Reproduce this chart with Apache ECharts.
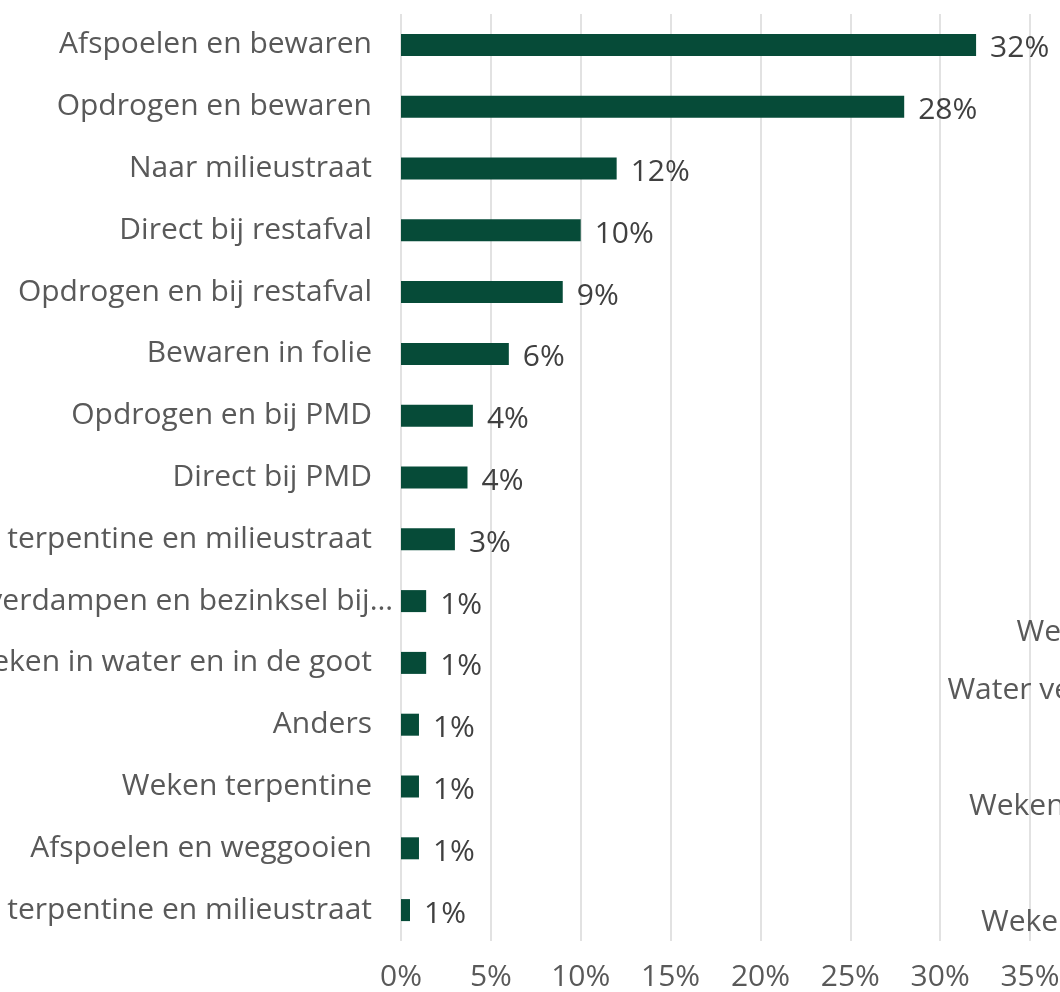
<!DOCTYPE html>
<html>
<head>
<meta charset="utf-8">
<script src="https://cdn.jsdelivr.net/npm/echarts@6/dist/echarts.min.js"></script>
<style>
html,body{margin:0;padding:0;background:#fff;}
#chart{width:1060px;height:992px;}
</style>
</head>
<body>
<div id="chart"></div>
<script>
const categories = [
  "Afspoelen en bewaren",
  "Opdrogen en bewaren",
  "Naar milieustraat",
  "Direct bij restafval",
  "Opdrogen en bij restafval",
  "Bewaren in folie",
  "Opdrogen en bij PMD",
  "Direct bij PMD",
  "Afspoelen in terpentine en milieustraat",
  "Water verdampen en bezinksel bij…",
  "Weken in water en in de goot",
  "Anders",
  "Weken terpentine",
  "Afspoelen en weggooien",
  "Weken in terpentine en milieustraat"
];
const values = [32, 28, 12, 10, 9, 6, 4, 3.7, 3, 1.4, 1.4, 1, 1, 1, 0.5];

// labels of the neighbouring chart, mostly outside the picture on the right
const categories2 = [
  "Weken in water en in de goot",
  "Water verdampen en bezinksel bij…",
  "Anders",
  "Weken in terpentine en restafval",
  "Direct bij PMD",
  "Weken in terpentine en bij PMD"
];

const xMin = 0, xMax = 35, xStep = 5;

const FONT = "Open Sans";
const FS = 30;
function catData(list) {
  return list.map(c => c.endsWith('…') ? {value: c, textStyle: {padding: [6, -21, 0, 0]}} : c);
}
const chart = echarts.init(document.getElementById('chart'));
chart.setOption({
  animation: false,
  grid: [
    {left: 401, right: 30, top: 14, bottom: 51, containLabel: false, outerBoundsMode: 'none'},
    {left: 1432, width: 600, top: 603, bottom: 41, containLabel: false, outerBoundsMode: 'none'}
  ],
  xAxis: [{
    gridIndex: 0,
    type: 'value', min: xMin, max: xMax, interval: xStep,
    axisLine: {show: false}, axisTick: {show: false},
    splitLine: {show: true, lineStyle: {color: '#d9d9d9', width: 1.5}},
    axisLabel: {formatter: '{value}%', color: '#595959', fontFamily: FONT, fontSize: FS, margin: 21}
  }, {
    gridIndex: 1,
    type: 'value', min: xMin, max: xMax, interval: xStep,
    axisLine: {show: false}, axisTick: {show: false},
    splitLine: {show: true, lineStyle: {color: '#d9d9d9', width: 1.5}},
    axisLabel: {formatter: '{value}%', color: '#595959', fontFamily: FONT, fontSize: FS, margin: 21}
  }],
  yAxis: [{
    gridIndex: 0,
    type: 'category', inverse: true,
    data: catData(categories),
    axisLine: {show: false}, axisTick: {show: false},
    axisLabel: {color: '#595959', fontFamily: FONT, fontSize: FS, margin: 29, interval: 0, padding: [6, 0, 0, 0]}
  }, {
    gridIndex: 1,
    type: 'category', inverse: true,
    data: catData(categories2),
    axisLine: {show: false}, axisTick: {show: false},
    axisLabel: {color: '#595959', fontFamily: FONT, fontSize: FS, margin: 8, interval: 0, padding: [6, 0, 0, 0]}
  }],
  series: [{
    type: 'bar',
    xAxisIndex: 0, yAxisIndex: 0,
    data: values,
    barWidth: 22,
    itemStyle: {color: '#064b38'},
    label: {
      show: true, position: 'right', distance: 14,
      color: '#404040', fontFamily: FONT, fontSize: FS,
      offset: [0, 4],
      formatter: p => Math.round(p.value) + '%'
    }
  }]
});
</script>
</body>
</html>
